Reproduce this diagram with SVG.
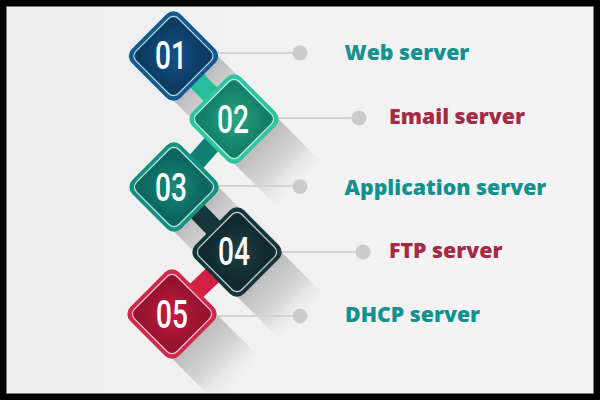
<svg xmlns="http://www.w3.org/2000/svg" width="600" height="400" viewBox="0 0 600 400">
<style>
.lead{stroke:#d2d2d2;stroke-width:2;fill:none}
.dot{fill:#cbcbcb}
.lbl{font-family:"Open Sans","Noto Sans",sans-serif;font-weight:800;font-size:21.300px}
.teal{fill:#14918f}
.red{fill:#a52a45}
.num{font-family:"Roboto","Liberation Sans",sans-serif;font-weight:500;font-size:38px;fill:#fff;text-anchor:middle}
.link{stroke-width:19;fill:none}
.inner{stroke-width:1.2}
</style>
<defs>
<clipPath id="frame"><rect x="7" y="7" width="586" height="386"/></clipPath>
<linearGradient id="bg" x1="0" y1="0" x2="1" y2="0"><stop offset="0" stop-color="#eeeeee"/><stop offset=".5" stop-color="#f2f2f2"/><stop offset="1" stop-color="#f4f4f5"/></linearGradient>
<linearGradient id="sh" gradientUnits="userSpaceOnUse" x1="22" y1="22" x2="66" y2="66"><stop offset="0" stop-color="#ababab" stop-opacity=".8"/><stop offset=".55" stop-color="#c4c4c4" stop-opacity=".6"/><stop offset="1" stop-color="#e4e4e4" stop-opacity="0"/></linearGradient>
<radialGradient id="g1"><stop offset="0" stop-color="#11538a"/><stop offset="1" stop-color="#0d3c63"/></radialGradient>
<radialGradient id="g2"><stop offset="0" stop-color="#2aa585"/><stop offset="1" stop-color="#137f68"/></radialGradient>
<radialGradient id="g3"><stop offset="0" stop-color="#158a7c"/><stop offset="1" stop-color="#0b6660"/></radialGradient>
<radialGradient id="g4"><stop offset="0" stop-color="#1e4146"/><stop offset="1" stop-color="#102a2f"/></radialGradient>
<radialGradient id="g5"><stop offset="0" stop-color="#c41e41"/><stop offset="1" stop-color="#96122f"/></radialGradient>
<polygon id="shadow" points="44.500,0 0,44.500 44,88.500 88.500,44" fill="url(#sh)"/>
<rect id="outer" x="-34.500" y="-34.500" width="69" height="69" rx="10" transform="rotate(45)"/>
<rect id="inner" class="inner" x="-30" y="-30" width="60" height="60" rx="7" transform="rotate(45)"/>
</defs>
<rect width="600" height="400" fill="#000"/>
<rect x="6.500" y="6.500" width="587" height="387" fill="url(#bg)" stroke="#777"/>
<g id="connectors">
<g clip-path="url(#frame)">
<use href="#shadow" x="173.500" y="56"/>
<use href="#shadow" x="234" y="119"/>
<use href="#shadow" x="174" y="187"/>
<use href="#shadow" x="237" y="252"/>
<use href="#shadow" x="172" y="314"/>
</g>
<path class="lead" d="M218 53H300"/><circle class="dot" cx="300" cy="53" r="7.500"/>
<path class="lead" d="M278 118H359"/><circle class="dot" cx="359" cy="118" r="7.500"/>
<path class="lead" d="M218 186H300"/><circle class="dot" cx="300" cy="186.500" r="7.500"/>
<path class="lead" d="M281 252H363"/><circle class="dot" cx="363" cy="252" r="7.500"/>
<path class="lead" d="M216 316H300"/><circle class="dot" cx="300" cy="316" r="7.500"/>
<path class="link" d="M173.500 56L234 119" stroke="#26bf9c"/>
<path class="link" d="M234 119L174 187" stroke="#0f7f74"/>
<path class="link" d="M174 187L237 252" stroke="#17363b"/>
<path class="link" d="M237 252L172 314" stroke="#d21f42"/>
</g>
<g id="node-01"><use href="#outer" x="173.500" y="56" fill="#14598d"/><use href="#inner" x="173.500" y="56" fill="url(#g1)" stroke="#b9dbe8"/><text class="num" transform="translate(171,69) scale(.74,1)">01</text></g>
<g id="node-02"><use href="#outer" x="234" y="119" fill="#2fc4a1"/><use href="#inner" x="234" y="119" fill="url(#g2)" stroke="#c8f0e4"/><text class="num" transform="translate(233,133) scale(.74,1)">02</text></g>
<g id="node-03"><use href="#outer" x="174" y="187" fill="#14907f"/><use href="#inner" x="174" y="187" fill="url(#g3)" stroke="#c0ebe3"/><text class="num" transform="translate(171,201) scale(.74,1)">03</text></g>
<g id="node-04"><use href="#outer" x="237" y="252" fill="#17363b"/><use href="#inner" x="237" y="252" fill="url(#g4)" stroke="#c6d6d6"/><text class="num" transform="translate(234,265) scale(.74,1)">04</text></g>
<g id="node-05"><use href="#outer" x="172" y="314" fill="#cf2a4c"/><use href="#inner" x="172" y="314" fill="url(#g5)" stroke="#f3c6d0"/><text class="num" transform="translate(172,328) scale(.74,1)">05</text></g>
<g id="labels">
<text class="lbl teal" x="344.500" y="60">Web server</text>
<text class="lbl red" x="389" y="124">Email server</text>
<text class="lbl teal" x="344.500" y="195">Application server</text>
<text class="lbl red" x="389" y="258">FTP server</text>
<text class="lbl teal" x="345" y="322">DHCP server</text>
</g>
</svg>
